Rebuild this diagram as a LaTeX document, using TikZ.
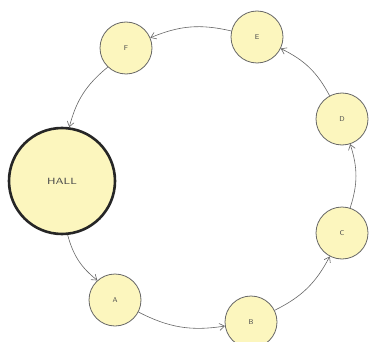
\documentclass[tikz,border=0pt]{standalone}
\usetikzlibrary{arrows.meta}
\definecolor{roomfill}{RGB}{252,246,190}
\begin{document}
\begin{tikzpicture}[x=1pt,y=-1pt,
  room/.style={circle,draw=black!60,line width=0.8pt,fill=roomfill,minimum size=52pt,inner sep=0pt,font=\sffamily\scriptsize,text=black!70},
  hall/.style={room,draw=black!85,line width=2.6pt,minimum size=106pt,font=\sffamily\small},
  link/.style={draw=black!60,line width=0.6pt,-{Straight Barb[length=5pt,width=7pt]},bend right=18}]
\useasboundingbox (0,0) rectangle (369,342);
\node[hall] (hall) at (62,181) {\scalebox{1.3}[1]{HALL}};
\node[room] (a) at (115,300) {A};
\node[room] (b) at (251,322) {B};
\node[room] (c) at (342,233) {C};
\node[room] (d) at (342,119) {D};
\node[room] (e) at (257,37) {E};
\node[room] (f) at (126,48) {F};
\draw[link] (hall) to (a);
\draw[link] (a) to (b);
\draw[link] (b) to (c);
\draw[link] (c) to (d);
\draw[link] (d) to (e);
\draw[link] (e) to (f);
\draw[link] (f) to (hall);
\end{tikzpicture}
\end{document}
